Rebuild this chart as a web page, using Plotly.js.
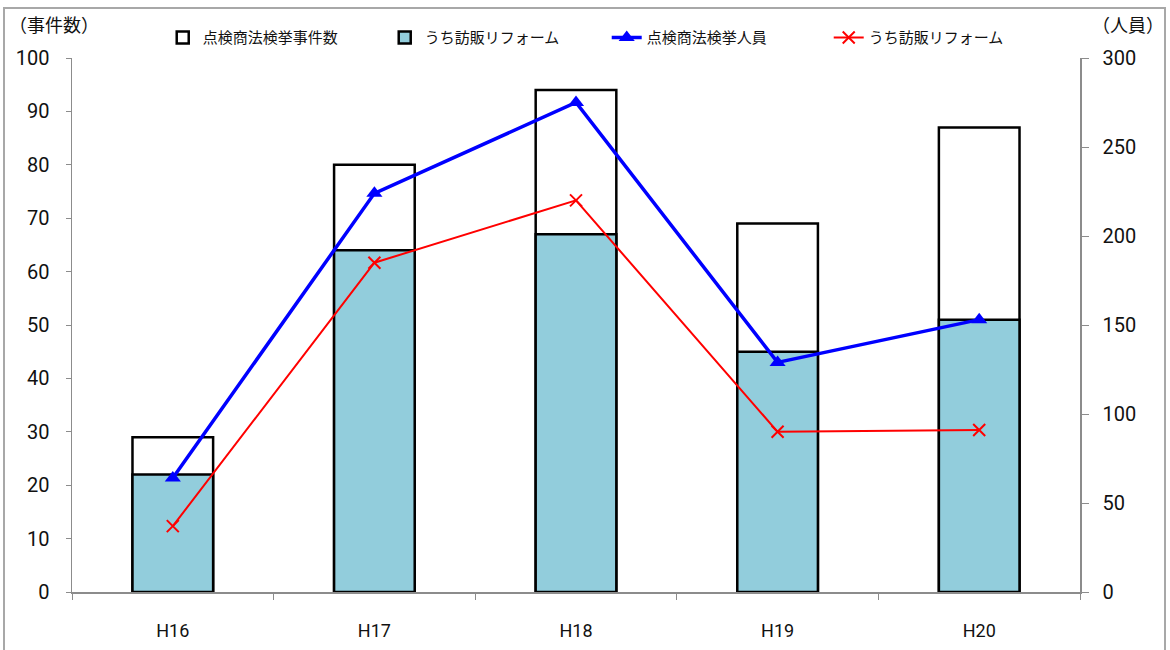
<!DOCTYPE html>
<html>
<head>
<meta charset="utf-8">
<script src="https://cdn.plot.ly/plotly-3.0.1.min.js"></script>
<style>
  html, body { margin: 0; padding: 0; background: #fff; }
  #frame { position: absolute; left: 3px; top: 7px; width: 1163px; height: 650px;
           border: 2px solid #a8a8a8; box-sizing: border-box; pointer-events: none; }
  #chart { position: absolute; left: 0; top: 0; width: 1170px; height: 650px; }
</style>
</head>
<body>
<div id="chart"></div>
<div id="frame"></div>
<script>
// 年度
const years = ['H16', 'H17', 'H18', 'H19', 'H20'];
// 点検商法 検挙事件数（件）
const caseTotal = [29, 80, 94, 69, 87];
// うち訪販リフォーム 事件数（件）
const caseReform = [22, 64, 67, 45, 51];
// 点検商法 検挙人員（人）
const personTotal = [64, 224, 275, 129, 153];
// うち訪販リフォーム 人員（人）
const personReform = [37, 185, 220, 90, 91];

const leftTicks = [0, 10, 20, 30, 40, 50, 60, 70, 80, 90, 100];
const rightTicks = [0, 50, 100, 150, 200, 250, 300];

const numFont = { family: 'Roboto, "Noto Sans", sans-serif', size: 20, color: '#111' };
const jpFont = { family: '"Noto Sans CJK JP", sans-serif', size: 15, color: '#111' };

const traces = [
  {
    type: 'bar', name: '点検商法検挙事件数', x: years, y: caseTotal,
    width: 0.4, marker: { color: '#ffffff', line: { color: '#000', width: 2.5 } },
    yaxis: 'y'
  },
  {
    type: 'bar', name: 'うち訪販リフォーム', x: years, y: caseReform,
    width: 0.4, marker: { color: '#92CDDC', line: { color: '#000', width: 2.5 } },
    yaxis: 'y'
  },
  {
    type: 'scatter', mode: 'lines+markers', name: '点検商法検挙人員',
    x: years, y: personTotal, yaxis: 'y2',
    line: { color: '#0000ff', width: 3.5 },
    marker: { symbol: 'triangle-up', size: 14, color: '#0000ff' }
  },
  {
    type: 'scatter', mode: 'lines+markers', name: 'うち訪販リフォーム',
    x: years, y: personReform, yaxis: 'y2',
    line: { color: '#ff0000', width: 2 },
    marker: { symbol: 'x-thin-open', size: 12, color: '#ff0000', line: { color: '#ff0000', width: 2 } }
  }
];

const layout = {
  width: 1170, height: 650,
  margin: { l: 72, r: 90, t: 58, b: 58, pad: 0 },
  paper_bgcolor: '#fff', plot_bgcolor: '#fff',
  barmode: 'overlay',
  showlegend: true,
  legend: {
    orientation: 'h', x: 0.09, xanchor: 'left', y: 1.038, yanchor: 'middle',
    font: jpFont, entrywidth: 177, entrywidthmode: 'pixels',
    itemwidth: 30, tracegroupgap: 0, bgcolor: 'rgba(0,0,0,0)'
  },
  xaxis: {
    type: 'category', tickfont: { family: numFont.family, size: 18, color: '#111' },
    showline: true, linecolor: '#8c8c8c', linewidth: 1.5,
    ticks: 'outside', tickson: 'boundaries', ticklen: 6, tickcolor: '#8c8c8c',
    showgrid: false, zeroline: false, ticklabelstandoff: 22
  },
  yaxis: {
    range: [0, 100], tickvals: leftTicks, ticktext: leftTicks.map(String),
    tickfont: numFont, showline: true, linecolor: '#8c8c8c', linewidth: 1.5,
    ticks: 'outside', ticklen: 5, tickcolor: '#8c8c8c',
    showgrid: false, zeroline: false, ticklabelstandoff: 12
  },
  yaxis2: {
    range: [0, 300], tickvals: rightTicks, ticktext: rightTicks.map(String),
    overlaying: 'y', side: 'right',
    tickfont: numFont, showline: true, linecolor: '#8c8c8c', linewidth: 1.5,
    ticks: 'outside', ticklen: 7, tickcolor: '#8c8c8c',
    showgrid: false, zeroline: false, ticklabelstandoff: 10
  },
  annotations: [
    { text: '（事件数）', xref: 'paper', yref: 'paper', x: -0.064, y: 1.064,
      xanchor: 'left', yanchor: 'middle', showarrow: false,
      font: { family: jpFont.family, size: 18, color: '#111' } },
    { text: '（人員）', xref: 'paper', yref: 'paper', x: 1.085, y: 1.064,
      xanchor: 'right', yanchor: 'middle', showarrow: false,
      font: { family: jpFont.family, size: 18, color: '#111' } }
  ]
};

Plotly.newPlot('chart', traces, layout, { staticPlot: true, displayModeBar: false });
</script>
</body>
</html>
